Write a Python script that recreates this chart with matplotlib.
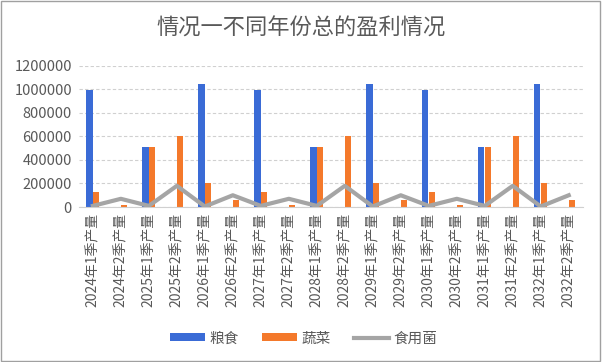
import numpy as np
import matplotlib.pyplot as plt
from matplotlib.patches import Rectangle

plt.rcParams['font.family'] = ['Noto Sans CJK SC', 'DejaVu Sans']

# categories
years = range(2024, 2033)
categories = [f'{y}年{s}季产量' for y in years for s in (1, 2)]

# series values
grain = [990000, 0, 510000, 0, 1040000, 0, 990000, 0, 510000, 0,
         1040000, 0, 990000, 0, 510000, 0, 1040000, 0]
vegetable = [125000, 15000, 510000, 600000, 200000, 60000, 125000, 15000, 510000, 600000,
             200000, 60000, 125000, 15000, 510000, 600000, 200000, 60000]
mushroom = [10000, 70000, 10000, 180000, 5000, 100000, 10000, 70000, 10000, 180000,
            5000, 100000, 10000, 70000, 10000, 180000, 5000, 100000]

fig = plt.figure(figsize=(6.02, 3.62), dpi=100)
ax = fig.add_axes([0.131, 0.428, 0.837, 0.391])

x = np.arange(len(categories))
w = 0.22
b1 = ax.bar(x - 0.12, grain, width=w, color='#3a6bd6', label='粮食', zorder=2)
b2 = ax.bar(x + 0.12, vegetable, width=w, color='#f4792b', label='蔬菜', zorder=2)
l1, = ax.plot(x, mushroom, color='#a5a5a5', linewidth=3, label='食用菌', zorder=3)

ax.set_xlim(-0.5, len(categories) - 0.5)
ax.set_ylim(0, 1200000)
ax.set_yticks(np.arange(0, 1200001, 200000))
ax.set_yticklabels([str(v) for v in range(0, 1200001, 200000)])
ax.set_xticks(x)
ax.set_xticklabels(categories, rotation=90)
ax.tick_params(axis='y', length=0, labelsize=10.5, colors='#595959', pad=5)
ax.tick_params(axis='x', length=0, labelsize=10, colors='#595959', pad=4)
ax.grid(axis='y', color='#d0d0d0', linestyle=(0, (3, 2)), linewidth=0.8, zorder=0)
for s in ['top', 'right', 'left']:
    ax.spines[s].set_visible(False)
ax.spines['bottom'].set_color('#d0d0d0')

fig.suptitle('情况一不同年份总的盈利情况', x=0.5, y=0.955, fontsize=16, color='#595959')
fig.legend([b1, b2, l1], ['粮食', '蔬菜', '食用菌'], loc='center',
           bbox_to_anchor=(0.505, 0.065), ncol=3, frameon=False,
           fontsize=10.5, labelcolor='#595959', handlelength=2.4, handleheight=0.5,
           columnspacing=1.6, handletextpad=0.3)

fig.patches.append(Rectangle((0.002, 0.003), 0.995, 0.993, transform=fig.transFigure,
                             fill=False, edgecolor='#a0a0a0', linewidth=1))

fig.savefig('out.png', dpi=100)
